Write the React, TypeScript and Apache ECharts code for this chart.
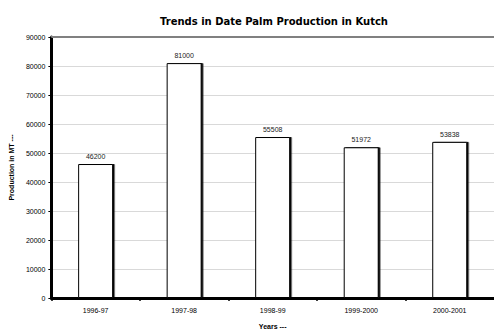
import React, { useEffect, useRef } from "react";
import * as echarts from "echarts";

const categories = ["1996-97", "1997-98", "1998-99", "1999-2000", "2000-2001"];
const production = [46200, 81000, 55508, 51972, 53838];
const yMin = 0;
const yMax = 90000;
const yInterval = 10000;

export default function App() {
  const ref = useRef<HTMLDivElement>(null);
  useEffect(() => {
    const chart = echarts.init(ref.current!, undefined, { renderer: "svg" });
    chart.setOption({
      animation: false,
      backgroundColor: "#fff",
      title: {
        text: "Trends in Date Palm Production in Kutch",
        left: 269,
        top: 11,
        textAlign: "center",
        textStyle: { fontFamily: "DejaVu Sans", fontWeight: "bold", fontSize: 10, color: "#000" },
      },
      grid: { left: 46, right: -2, top: 37, bottom: 28, containLabel: false },
      xAxis: [
        {
          type: "category",
          data: categories,
          position: "bottom",
          name: "Years ---",
          nameLocation: "middle",
          nameGap: 25,
          nameTextStyle: { fontFamily: "Liberation Sans", fontWeight: "bold", fontSize: 7, color: "#000" },
          axisLine: { show: true, lineStyle: { color: "#000", width: 3 } },
          axisTick: { show: true, length: 3, lineStyle: { color: "#000", width: 1.5 } },
          axisLabel: { fontFamily: "Liberation Sans", fontSize: 7, color: "#000", margin: 9 },
          splitLine: { show: false },
        },
        {
          type: "category",
          data: categories,
          position: "top",
          axisLine: { show: true, lineStyle: { color: "#808080", width: 2 } },
          axisTick: { show: false },
          axisLabel: { show: false },
        },
      ],
      yAxis: {
        type: "value",
        min: yMin,
        max: yMax,
        interval: yInterval,
        name: "Production in MT ---",
        nameLocation: "middle",
        nameGap: 31,
        nameTextStyle: { fontFamily: "Liberation Sans", fontWeight: "bold", fontSize: 7, color: "#000" },
        axisLine: { show: true, lineStyle: { color: "#000", width: 3 } },
        axisTick: { show: true, length: 3, lineStyle: { color: "#000", width: 1 } },
        axisLabel: {
          fontFamily: "Liberation Sans",
          fontSize: 7,
          color: "#000",
          margin: 6,
          formatter: (v: number) => String(v),
        },
        splitLine: { show: true, lineStyle: { color: "#d9d9d9", width: 1 } },
      },
      series: [
        {
          type: "bar",
          data: production,
          barWidth: 35,
          itemStyle: {
            color: "#fff",
            borderColor: "#000",
            borderWidth: 1,
            shadowColor: "#000",
            shadowOffsetX: 1.5,
            shadowOffsetY: 0,
            shadowBlur: 0,
          },
          label: {
            show: true,
            position: "top",
            distance: 4,
            fontFamily: "Liberation Sans",
            fontSize: 7,
            color: "#222",
          },
        },
      ],
    });
    return () => chart.dispose();
  }, []);
  return <div ref={ref} style={{ width: 494, height: 335, position: "absolute", left: 0, top: 0 }} />;
}
